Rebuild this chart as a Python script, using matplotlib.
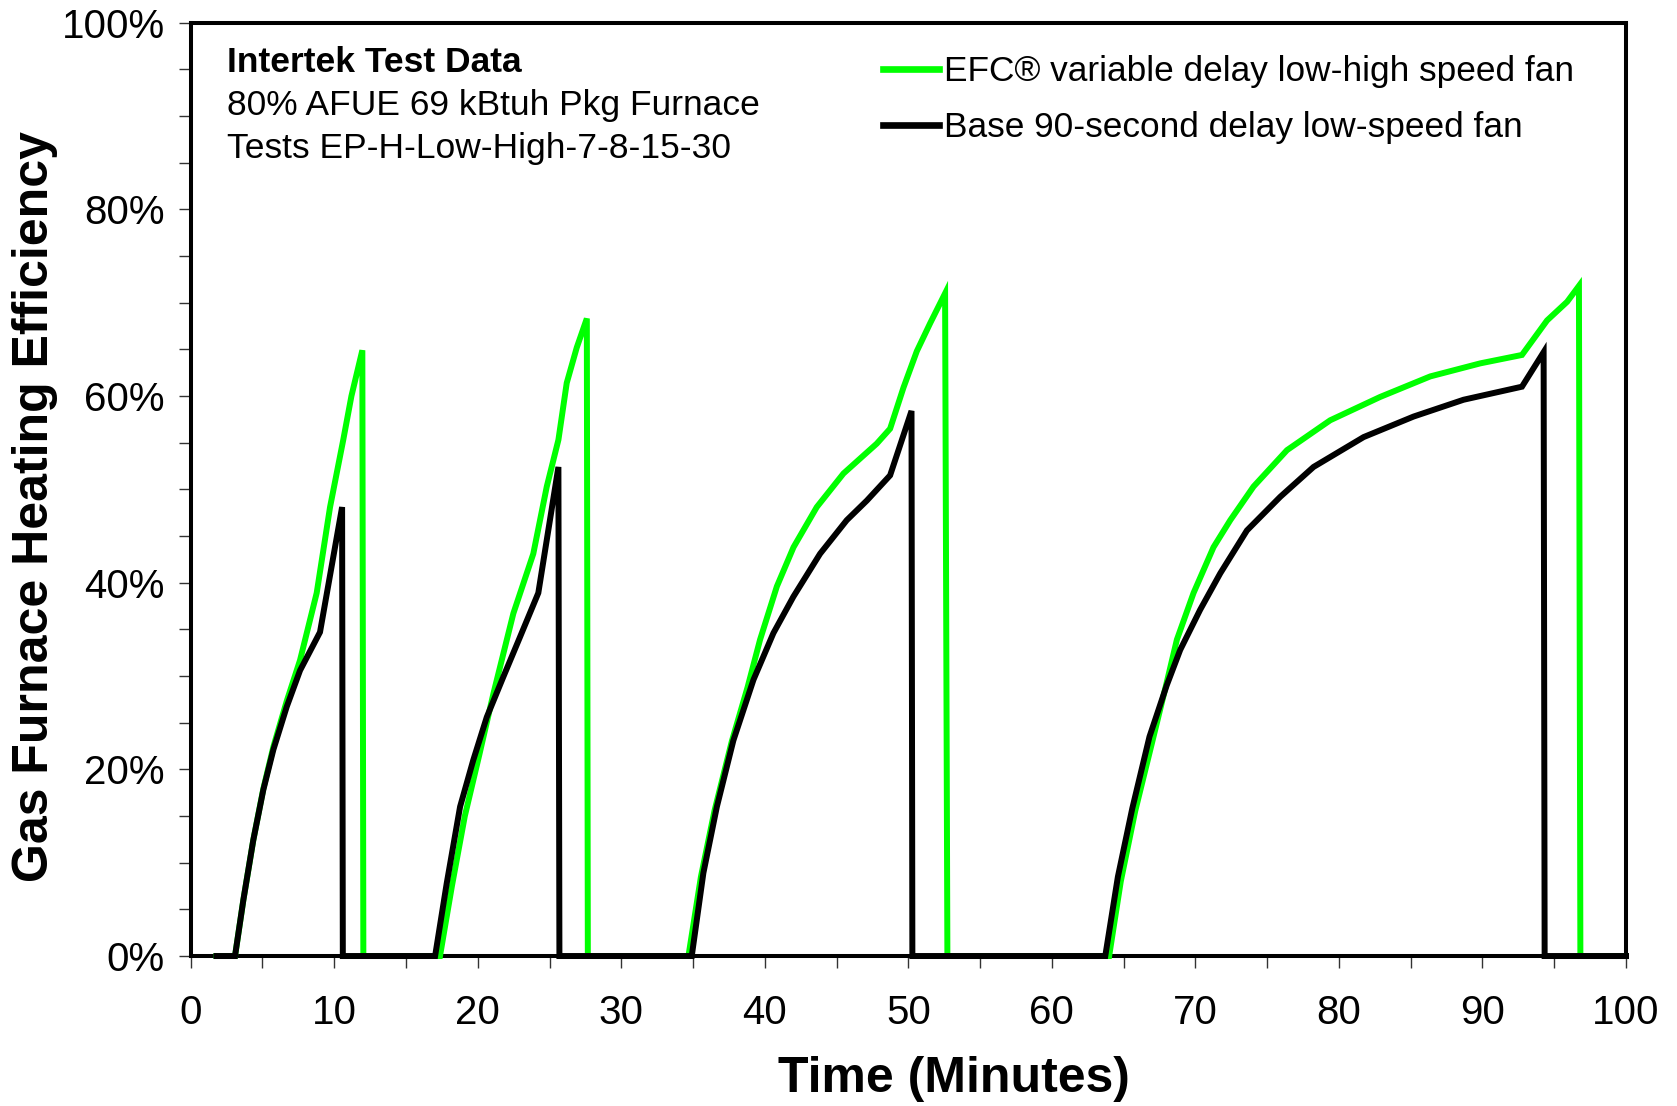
import matplotlib
matplotlib.use("Agg")
import matplotlib.pyplot as plt
from matplotlib.ticker import MultipleLocator, FuncFormatter

plt.rcParams['font.family'] = ['Liberation Sans', 'DejaVu Sans']

# EFC variable delay low-high speed fan (green)
efc_time = [1.8, 3.09, 3.67, 4.36, 5.06, 5.76, 6.69, 7.62, 8.78, 9.71, 10.63, 11.2, 11.96, 12.03,
            17.37, 18.2, 19.1, 20.1, 21.09, 22.48, 23.87, 24.81, 25.62, 26.2, 26.9, 27.6, 27.67,
            34.68, 35.55, 36.5, 37.7, 38.8, 39.67, 40.84, 42.0, 43.62, 45.48, 47.8, 48.73, 49.66, 50.59, 51.52, 52.56, 52.72,
            63.99, 64.8, 65.8, 67.0, 68.0, 68.71, 69.87, 71.26, 72.43, 74.05, 76.38, 79.39, 82.87, 86.36, 89.85, 92.75,
            94.5, 95.9, 96.72, 96.82,
            100]
efc_eff = [0, 0, 6.0, 12.4, 17.9, 22.4, 27.3, 31.7, 38.9, 48.1, 55.3, 60.0, 64.9, 0,
           0, 7.5, 15.0, 21.5, 28.1, 36.7, 43.1, 50.3, 55.3, 61.4, 65.2, 68.3, 0,
           0, 8.5, 15.6, 23.0, 28.8, 33.9, 39.6, 43.8, 48.1, 51.7, 54.9, 56.5, 60.9, 64.8, 67.8, 71.0, 0,
           0, 8.0, 15.5, 23.0, 29.3, 33.9, 38.9, 43.8, 46.7, 50.3, 54.2, 57.4, 59.9, 62.1, 63.5, 64.4,
           68.1, 70.1, 71.8, 0,
           0]

# Base 90-second delay low-speed fan (black)
base_time = [1.8, 3.09, 3.67, 4.36, 5.06, 5.76, 6.69, 7.62, 9.01, 10.55, 10.6,
             17.03, 17.84, 18.77, 19.69, 20.63, 21.78, 22.95, 24.22, 25.62, 25.69,
             34.91, 35.72, 36.66, 37.81, 39.21, 40.6, 41.99, 43.85, 45.71, 47.11, 48.73, 50.22, 50.28,
             63.72, 64.6, 65.6, 66.8, 68.0, 68.94, 70.33, 71.73, 73.59, 75.91, 78.23, 81.72, 85.2, 88.68, 92.75,
             94.26, 94.33,
             100]
base_eff = [0, 0, 6.0, 12.4, 17.8, 22.1, 26.7, 30.6, 34.7, 48.1, 0,
            0, 7.8, 16.0, 21.0, 25.6, 29.9, 34.2, 38.9, 52.4, 0,
            0, 8.9, 16.0, 23.1, 29.6, 34.6, 38.5, 43.1, 46.7, 48.8, 51.5, 58.4, 0,
            0, 8.5, 15.8, 23.5, 29.0, 32.8, 37.1, 41.0, 45.6, 49.2, 52.4, 55.6, 57.8, 59.6, 61.0,
            64.7, 0,
            0]

labels = ["EFC\u00ae variable delay low-high speed fan",
          "Base 90-second delay low-speed fan"]
note_lines = ["Intertek Test Data",
              "80% AFUE 69 kBtuh Pkg Furnace",
              "Tests EP-H-Low-High-7-8-15-30"]

fig = plt.figure(figsize=(16.77, 11.06), dpi=100)
ax = fig.add_axes([0.1137, 0.1356, 0.8559, 0.8439])

ax.plot(efc_time, efc_eff, color='#00FF00', lw=4.3, label=labels[0], clip_on=False,
        solid_joinstyle='miter', zorder=3)
ax.plot(base_time, base_eff, color='black', lw=4.3, label=labels[1], clip_on=False,
        solid_joinstyle='miter', zorder=4)

ax.set_xlim(0, 100)
ax.set_ylim(0, 100)
ax.xaxis.set_major_locator(MultipleLocator(10))
ax.xaxis.set_minor_locator(MultipleLocator(5))
ax.yaxis.set_major_locator(MultipleLocator(20))
ax.yaxis.set_minor_locator(MultipleLocator(5))
ax.yaxis.set_major_formatter(FuncFormatter(lambda v, p: f"{int(round(v))}%"))

for s in ax.spines.values():
    s.set_linewidth(2.9)
ax.tick_params(axis='both', which='both', direction='out', length=8.5, width=1.0,
               color='#333333', labelsize=29)
ax.tick_params(axis='x', which='both', pad=19)
ax.tick_params(axis='y', which='both', pad=10)

ax.set_xlabel("Time (Minutes)", fontsize=36, fontweight='bold', labelpad=17, x=0.532)
ax.set_ylabel("Gas Furnace Heating Efficiency", fontsize=36, fontweight='bold',
              labelpad=3, y=0.482)

ax.text(0.0253, 0.9475, note_lines[0], transform=ax.transAxes, fontsize=25.5,
        fontweight='bold', va='baseline', ha='left')
ax.text(0.0253, 0.9006, note_lines[1], transform=ax.transAxes, fontsize=25.5,
        va='baseline', ha='left')
ax.text(0.0253, 0.855, note_lines[2], transform=ax.transAxes, fontsize=25.5,
        va='baseline', ha='left')

leg = ax.legend(loc='upper left', bbox_to_anchor=(0.482, 0.965), frameon=False,
                fontsize=25.4, handlelength=1.6, handletextpad=0.13, labelspacing=0.65,
                borderpad=0, borderaxespad=0)
for h in leg.get_lines():
    h.set_linewidth(4.8)

fig.savefig("out.png", dpi=100)
